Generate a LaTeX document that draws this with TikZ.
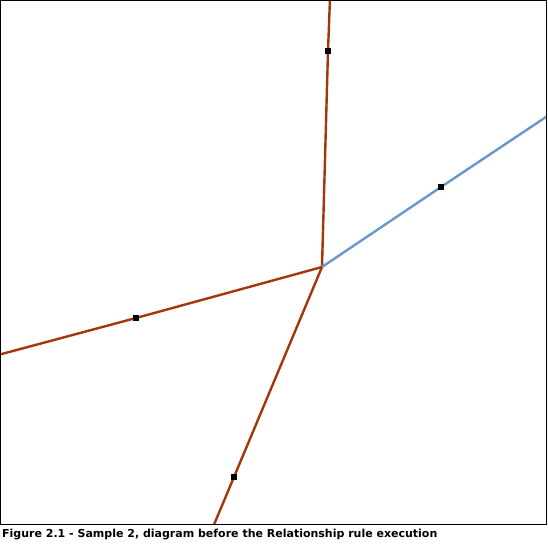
\documentclass[tikz,border=0pt]{standalone}
\usepackage{fontspec}
\setmainfont{DejaVu Sans}
\begin{document}
\begin{tikzpicture}[x=1pt,y=-1pt,
  brownline/.style={draw={rgb,255:red,163;green,55;blue,10},line width=2.4pt},
  blueline/.style={draw={rgb,255:red,102;green,153;blue,204},line width=2.4pt},
  marker/.style={fill=black,inner sep=0pt,minimum size=6.5pt,draw=none},
  caption/.style={anchor=base west,inner sep=0pt,font=\bfseries\fontsize{11}{13}\selectfont}]
\useasboundingbox (0,0) rectangle (547,548);
\fill[white] (0,0) rectangle (547,548);
\begin{scope}
\clip (0,0) rectangle (546,524);
\coordinate (c) at (322,267);
\coordinate (top) at (330,-2);
\coordinate (right) at (549,115);
\coordinate (left) at (-2,355);
\coordinate (bot) at (213,527);
\node[marker] (m1) at (328,51) {};
\node[marker] (m2) at (441,187) {};
\node[marker] (m3) at (136,318) {};
\node[marker] (m4) at (234,477) {};
\draw[brownline] (c) -- (m1.center) -- (top);
\draw[brownline] (c) -- (m3.center) -- (left);
\draw[brownline] (c) -- (m4.center) -- (bot);
\draw[blueline] (c) -- (m2.center) -- (right);
\node[marker] at (m1) {};
\node[marker] at (m2) {};
\node[marker] at (m3) {};
\node[marker] at (m4) {};
\end{scope}
\draw[black,line width=1pt] (0.5,0.5) rectangle (546,524.5);
\node[caption] (cap) at (2,537) {Figure 2.1 - Sample 2, diagram before the Relationship rule execution};
\end{tikzpicture}
\end{document}
